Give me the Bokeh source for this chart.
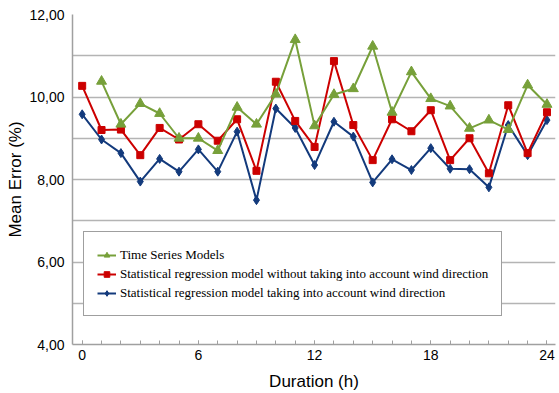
from bokeh.plotting import figure
from bokeh.models import Range1d, FixedTicker, Legend, LegendItem
from bokeh.embed import file_html
from bokeh.resources import INLINE

hours = list(range(25))
ts_hours = list(range(1, 25))
time_series = [10.38, 9.34, 9.84, 9.60, 9.00, 9.00, 8.70, 9.75, 9.34, 10.07, 11.39, 9.30,
               10.06, 10.20, 11.23, 9.63, 10.61, 9.96, 9.78, 9.24, 9.44, 9.21, 10.29, 9.82]
reg_no_wind = [10.27, 9.20, 9.21, 8.59, 9.25, 8.97, 9.34, 8.94, 9.46, 8.21, 10.37, 9.42, 8.79,
               10.87, 9.32, 8.47, 9.46, 9.17, 9.68, 8.47, 9.00, 8.15, 9.80, 8.64, 9.63]
reg_wind = [9.58, 8.97, 8.64, 7.95, 8.50, 8.19, 8.73, 8.19, 9.16, 7.50, 9.72, 9.25, 8.35,
            9.40, 9.04, 7.93, 8.49, 8.23, 8.76, 8.26, 8.25, 7.81, 9.32, 8.59, 9.44]
x_ticks = [0, 6, 12, 18, 24]
y_ticks = [4, 6, 8, 10, 12]
y_minor = [5, 7, 9, 11]
labels = ["Time Series Models",
          "Statistical regression model without taking into account wind direction",
          "Statistical regression model taking into account wind direction"]

GREEN = "#77a03a"
RED = "#cc0000"
BLUE = "#133a7c"
GRID = "#b4b4b4"

p = figure(width=559, height=393, output_backend="svg", toolbar_location=None,
           x_range=Range1d(-0.5, 24.44), y_range=Range1d(4, 12),
           min_border_left=72, min_border_right=4, min_border_top=14, min_border_bottom=48)
p.outline_line_color = None
p.background_fill_color = "white"
p.border_fill_color = "white"

# axes
p.xaxis.ticker = FixedTicker(ticks=x_ticks, minor_ticks=hours)
p.yaxis.ticker = FixedTicker(ticks=y_ticks, minor_ticks=y_minor)
p.yaxis.major_label_overrides = {t: f"{t:.2f}".replace(".", ",") for t in y_ticks}
for ax in (p.xaxis[0], p.yaxis[0]):
    ax.axis_line_color = "#a0a0a0"
    ax.axis_line_width = 1.5
    ax.major_tick_line_color = "#a0a0a0"
    ax.minor_tick_line_color = "#a0a0a0"
    ax.major_label_text_font = "Liberation Sans"
    ax.major_label_text_font_size = "14px"
    ax.major_label_text_color = "#000000"
    ax.axis_label_text_font = "Liberation Sans"
    ax.axis_label_text_font_size = "17px"
    ax.axis_label_text_font_style = "normal"
    ax.axis_label_text_color = "#000000"
p.xaxis.major_tick_in = 4
p.xaxis.major_tick_out = 0
p.xaxis.minor_tick_in = 4
p.xaxis.minor_tick_out = 0
p.xaxis.major_label_standoff = 5
p.xaxis.axis_label = "Duration (h)"
p.xaxis.axis_label_standoff = 9
p.yaxis.major_tick_in = 0
p.yaxis.major_tick_out = 0
p.yaxis.minor_tick_in = 0
p.yaxis.minor_tick_out = 0
p.yaxis.major_label_standoff = 8
p.yaxis.axis_label = "Mean Error (%)"
p.yaxis.axis_label_standoff = 1

p.xgrid.grid_line_color = None
p.ygrid.grid_line_color = GRID
p.ygrid.grid_line_width = 1.5
p.ygrid.minor_grid_line_color = GRID
p.ygrid.minor_grid_line_width = 1.5

# series (blue below, red, green on top)
lb = p.line(hours, reg_wind, line_color=BLUE, line_width=2)
sb = p.scatter(hours, reg_wind, marker="diamond", size=9, fill_color=BLUE, line_color=BLUE)
lr = p.line(hours, reg_no_wind, line_color=RED, line_width=2)
sr = p.scatter(hours, reg_no_wind, marker="square", size=7, fill_color=RED, line_color=RED)
lg = p.line(ts_hours, time_series, line_color=GREEN, line_width=2)
sg = p.scatter(ts_hours, time_series, marker="triangle", size=10, fill_color=GREEN, line_color=GREEN)

legend = Legend(items=[LegendItem(label=labels[0], renderers=[lg, sg]),
                       LegendItem(label=labels[1], renderers=[lr, sr]),
                       LegendItem(label=labels[2], renderers=[lb, sb])],
                location=(11, 28))
legend.label_text_font = "Liberation Serif"
legend.label_text_font_size = "13px"
legend.label_text_color = "#000000"
legend.label_standoff = 4
legend.glyph_width = 19
legend.glyph_height = 14
legend.label_height = 19
legend.spacing = 0
legend.padding = 13
legend.margin = 0
legend.border_line_color = "#404040"
legend.border_line_width = 1
legend.background_fill_color = "white"
legend.background_fill_alpha = 1.0
p.add_layout(legend, "center")

open("out.html", "w").write(file_html(p, INLINE))
